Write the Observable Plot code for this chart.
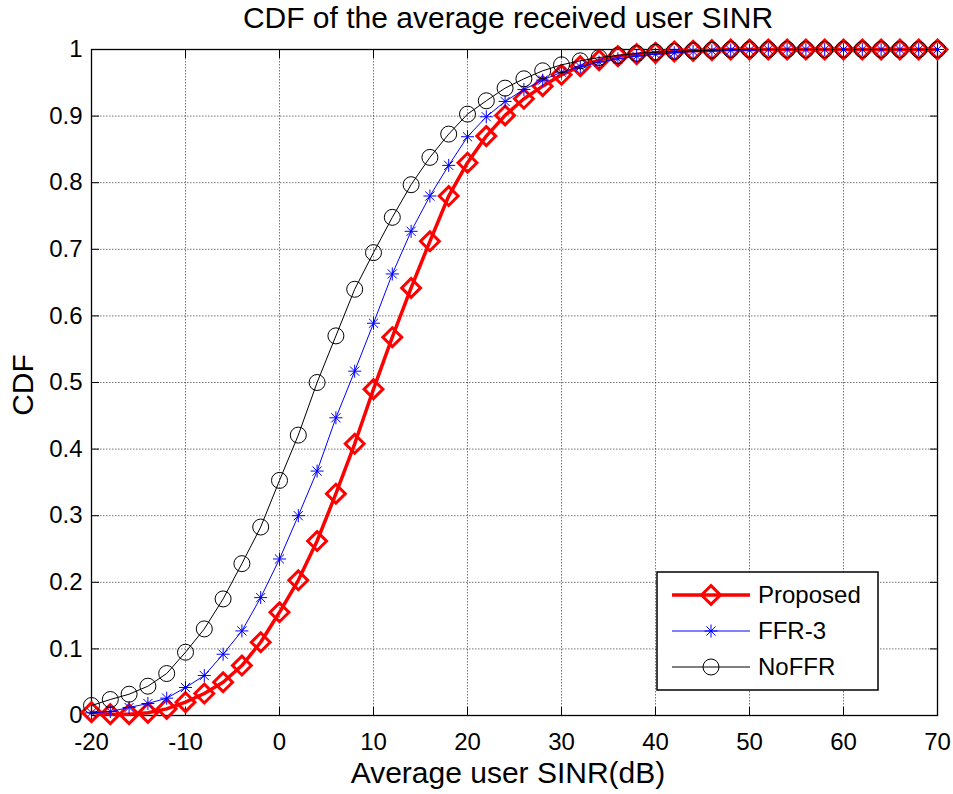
<!DOCTYPE html>
<html><head><meta charset="utf-8">
<script src="https://cdn.jsdelivr.net/npm/d3@7"></script>
<script src="https://cdn.jsdelivr.net/npm/@observablehq/plot@0.6"></script>
<style>body{margin:0;background:#fff}</style>
</head><body><div id="chart"></div>
<script>
const sinr = [-20,-18,-16,-14,-12,-10,-8,-6,-4,-2,0,2,4,6,8,10,12,14,16,18,20,22,24,26,28,30,32,34,36,38,40,42,44,46,48,50,52,54,56,58,60,62,64,66,68,70];
const proposed = [0.005,0.002,0.002,0.004,0.01,0.02,0.033,0.05,0.075,0.11,0.155,0.203,0.262,0.333,0.408,0.49,0.568,0.642,0.712,0.78,0.83,0.87,0.901,0.926,0.945,0.962,0.975,0.984,0.99,0.993,0.995,0.997,0.998,0.999,1,1,1,1,1,1,1,1,1,1,1,1];
const ffr3 = [0.004,0.006,0.012,0.018,0.026,0.042,0.06,0.092,0.127,0.177,0.235,0.30,0.367,0.447,0.517,0.589,0.663,0.727,0.78,0.826,0.869,0.899,0.922,0.94,0.954,0.966,0.974,0.981,0.986,0.99,0.993,0.995,0.997,0.998,0.999,0.999,1,1,1,1,1,1,1,1,1,1];
const noffr = [0.015,0.024,0.032,0.044,0.063,0.095,0.13,0.175,0.228,0.283,0.353,0.421,0.5,0.57,0.64,0.695,0.748,0.797,0.838,0.873,0.903,0.923,0.942,0.956,0.968,0.977,0.983,0.988,0.991,0.994,0.996,0.997,0.998,0.999,1,1,1,1,1,1,1,1,1,1,1,1];
const xTicks = [-20,-10,0,10,20,30,40,50,60,70];
const yTicks = [0,0.1,0.2,0.3,0.4,0.5,0.6,0.7,0.8,0.9,1];
const yTickLabels = ["0","0.1","0.2","0.3","0.4","0.5","0.6","0.7","0.8","0.9","1"];
const seriesNames = ["Proposed","FFR-3","NoFFR"];
const titleText = "CDF of the average received user SINR";
const xLabel = "Average user SINR(dB)";
const yLabel = "CDF";

const FONT = "'Liberation Sans', Arial, Helvetica, sans-serif";
const rows = vals => sinr.map((x, i) => ({x, y: vals[i]}));
const star8 = {
  draw(ctx, size) {
    const r = Math.sqrt(size / Math.PI), d = r * Math.SQRT1_2;
    ctx.moveTo(0, -r); ctx.lineTo(0, r);
    ctx.moveTo(-r, 0); ctx.lineTo(r, 0);
    ctx.moveTo(-d, -d); ctx.lineTo(d, d);
    ctx.moveTo(-d, d); ctx.lineTo(d, -d);
  }
};
const styles = [
  {stroke: "#ff0000", lw: 3.5, symbol: "diamond2", r: 8.5, mw: 3},
  {stroke: "#0000ff", lw: 1, symbol: star8, r: 6.5, mw: 1},
  {stroke: "#000000", lw: 1, symbol: "circle", r: 8, mw: 1}
];
const data = [proposed, ffr3, noffr].map(rows);

const gridStyle = {stroke: "#000", strokeOpacity: 0.55, strokeDasharray: "1.5,1.5"};
const marks = [
  Plot.gridX(xTicks, gridStyle),
  Plot.gridY(yTicks, gridStyle),
  Plot.axisX(xTicks, {anchor: "bottom", tickSize: -8, tickPadding: 25, fontSize: 24, tickFormat: d => String(d), label: null}),
  Plot.axisX(xTicks, {anchor: "top", tickSize: -8, tickFormat: () => "", label: null}),
  Plot.axisY(yTicks, {anchor: "left", tickSize: -8, tickPadding: 17, fontSize: 24, tickFormat: d => yTickLabels[yTicks.indexOf(d)], label: null}),
  Plot.axisY(yTicks, {anchor: "right", tickSize: -8, tickFormat: () => "", label: null}),
  Plot.frame({stroke: "#000", strokeWidth: 1.3})
];
data.forEach((d, i) => {
  const s = styles[i];
  marks.push(Plot.line(d, {x: "x", y: "y", stroke: s.stroke, strokeWidth: s.lw}));
  marks.push(Plot.dot(d, {x: "x", y: "y", symbol: s.symbol, r: s.r, stroke: s.stroke, strokeWidth: s.mw, fill: "none"}));
});

const svgNode = Plot.plot({
  width: 953, height: 794,
  marginLeft: 91, marginRight: 16, marginTop: 49, marginBottom: 79,
  x: {domain: [-20, 70], label: null},
  y: {domain: [0, 1], label: null},
  style: {fontFamily: FONT, background: "white", color: "black"},
  marks
});
document.getElementById("chart").appendChild(svgNode);

const svg = d3.select(svgNode);
svg.append("text").attr("x", 508).attr("y", 28).attr("text-anchor", "middle")
  .attr("font-family", FONT).attr("font-size", 30).attr("fill", "#000").text(titleText);
svg.append("text").attr("x", 508).attr("y", 783).attr("text-anchor", "middle")
  .attr("font-family", FONT).attr("font-size", 30).attr("fill", "#000").text(xLabel);
svg.append("text").attr("transform", "translate(33,385) rotate(-90)").attr("text-anchor", "middle")
  .attr("font-family", FONT).attr("font-size", 30).attr("fill", "#000").text(yLabel);

// legend
const lg = svg.append("g");
lg.append("rect").attr("x", 657).attr("y", 572).attr("width", 221).attr("height", 118)
  .attr("fill", "white").attr("stroke", "#000").attr("stroke-width", 1.5);
const rowY = [595, 631, 667];
seriesNames.forEach((name, i) => {
  const s = styles[i];
  const y = rowY[i];
  lg.append("line").attr("x1", 672).attr("x2", 750).attr("y1", y).attr("y2", y)
    .attr("stroke", s.stroke).attr("stroke-width", s.lw);
  const sym = typeof s.symbol === "string"
    ? {diamond2: d3.symbolDiamond2, circle: d3.symbolCircle}[s.symbol] : s.symbol;
  lg.append("path").attr("transform", `translate(711,${y})`)
    .attr("d", d3.symbol(sym, Math.PI * s.r * s.r)())
    .attr("fill", "none").attr("stroke", s.stroke).attr("stroke-width", s.mw);
  lg.append("text").attr("x", 758).attr("y", y).attr("dy", "0.35em").attr("text-anchor", "start")
    .attr("font-family", FONT).attr("font-size", 24).attr("fill", "#000").text(name);
});
</script>
</body></html>
